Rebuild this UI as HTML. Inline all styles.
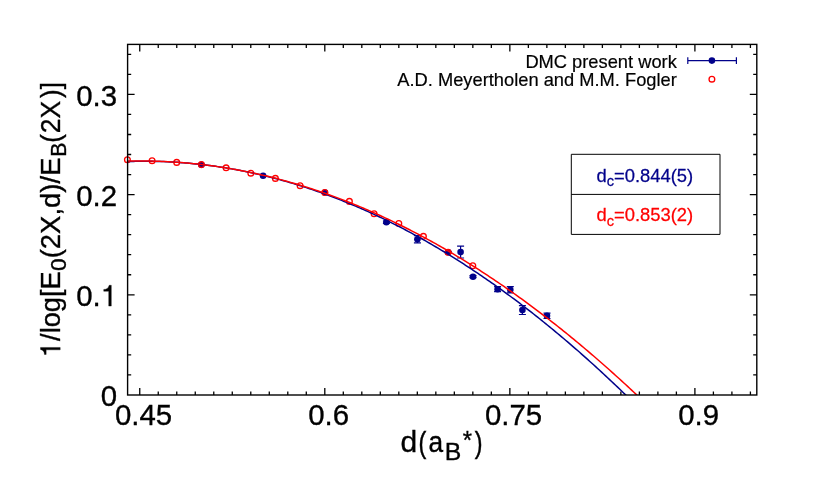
<!DOCTYPE html>
<html><head><meta charset="utf-8"><title>plot</title>
<style>html,body{margin:0;padding:0;background:#fff;}svg{display:block;}text{font-family:"Liberation Sans",sans-serif;font-kerning:none;}.k{stroke:#000;stroke-width:0.35px;}.l{stroke:#000;stroke-width:0.2px;}</style>
</head><body>
<svg width="830" height="498" viewBox="0 0 830 498">
<rect x="0" y="0" width="830" height="498" fill="#ffffff"/>
<g opacity="0.999">
<path d="M139.75 395.00v-7.00M139.75 44.40v7.00M158.25 395.00v-3.60M158.25 44.40v3.60M176.76 395.00v-3.60M176.76 44.40v3.60M195.26 395.00v-3.60M195.26 44.40v3.60M213.77 395.00v-3.60M213.77 44.40v3.60M232.27 395.00v-3.60M232.27 44.40v3.60M250.78 395.00v-3.60M250.78 44.40v3.60M269.28 395.00v-3.60M269.28 44.40v3.60M287.79 395.00v-3.60M287.79 44.40v3.60M306.29 395.00v-3.60M306.29 44.40v3.60M324.80 395.00v-7.00M324.80 44.40v7.00M343.30 395.00v-3.60M343.30 44.40v3.60M361.81 395.00v-3.60M361.81 44.40v3.60M380.31 395.00v-3.60M380.31 44.40v3.60M398.82 395.00v-3.60M398.82 44.40v3.60M417.32 395.00v-3.60M417.32 44.40v3.60M435.83 395.00v-3.60M435.83 44.40v3.60M454.33 395.00v-3.60M454.33 44.40v3.60M472.84 395.00v-3.60M472.84 44.40v3.60M491.34 395.00v-3.60M491.34 44.40v3.60M509.85 395.00v-7.00M509.85 44.40v7.00M528.36 395.00v-3.60M528.36 44.40v3.60M546.86 395.00v-3.60M546.86 44.40v3.60M565.37 395.00v-3.60M565.37 44.40v3.60M583.87 395.00v-3.60M583.87 44.40v3.60M602.38 395.00v-3.60M602.38 44.40v3.60M620.88 395.00v-3.60M620.88 44.40v3.60M639.38 395.00v-3.60M639.38 44.40v3.60M657.89 395.00v-3.60M657.89 44.40v3.60M676.39 395.00v-3.60M676.39 44.40v3.60M694.90 395.00v-7.00M694.90 44.40v7.00M713.40 395.00v-3.60M713.40 44.40v3.60M731.91 395.00v-3.60M731.91 44.40v3.60M750.41 395.00v-3.60M750.41 44.40v3.60M127.60 374.96h3.60M756.80 374.96h-3.60M127.60 354.92h3.60M756.80 354.92h-3.60M127.60 334.88h3.60M756.80 334.88h-3.60M127.60 314.84h3.60M756.80 314.84h-3.60M127.60 294.80h7.00M756.80 294.80h-7.00M127.60 274.76h3.60M756.80 274.76h-3.60M127.60 254.72h3.60M756.80 254.72h-3.60M127.60 234.68h3.60M756.80 234.68h-3.60M127.60 214.64h3.60M756.80 214.64h-3.60M127.60 194.60h7.00M756.80 194.60h-7.00M127.60 174.56h3.60M756.80 174.56h-3.60M127.60 154.52h3.60M756.80 154.52h-3.60M127.60 134.48h3.60M756.80 134.48h-3.60M127.60 114.44h3.60M756.80 114.44h-3.60M127.60 94.40h7.00M756.80 94.40h-7.00M127.60 74.36h3.60M756.80 74.36h-3.60M127.60 54.32h3.60M756.80 54.32h-3.60" stroke="#000" stroke-width="1.3" fill="none"/>
<clipPath id="c"><rect x="127.6" y="44.4" width="629.1999999999999" height="350.6"/></clipPath>
<circle cx="201.4" cy="164.7" r="3.3" fill="#00008b"/><circle cx="263.1" cy="175.7" r="3.3" fill="#00008b"/><circle cx="324.9" cy="192.5" r="3.3" fill="#00008b"/><path d="M386.4 221.0V223.4M382.9 221.0h7M382.9 223.4h7" stroke="#00008b" stroke-width="1.2" fill="none"/><circle cx="386.4" cy="222.2" r="3.3" fill="#00008b"/><path d="M417.4 235.7V242.9M413.9 235.7h7M413.9 242.9h7" stroke="#00008b" stroke-width="1.2" fill="none"/><circle cx="417.4" cy="239.3" r="3.3" fill="#00008b"/><path d="M448.2 251.5V253.1M444.7 251.5h7M444.7 253.1h7" stroke="#00008b" stroke-width="1.2" fill="none"/><circle cx="448.2" cy="252.3" r="3.3" fill="#00008b"/><path d="M460.6 246.2V258.0M457.1 246.2h7M457.1 258.0h7" stroke="#00008b" stroke-width="1.2" fill="none"/><circle cx="460.6" cy="252.1" r="3.3" fill="#00008b"/><path d="M473.0 275.7V277.7M469.5 275.7h7M469.5 277.7h7" stroke="#00008b" stroke-width="1.2" fill="none"/><circle cx="473.0" cy="276.7" r="3.3" fill="#00008b"/><path d="M497.6 286.7V291.7M494.1 286.7h7M494.1 291.7h7" stroke="#00008b" stroke-width="1.2" fill="none"/><circle cx="497.6" cy="289.2" r="3.3" fill="#00008b"/><path d="M510.3 286.6V292.8M506.8 286.6h7M506.8 292.8h7" stroke="#00008b" stroke-width="1.2" fill="none"/><circle cx="510.3" cy="289.7" r="3.3" fill="#00008b"/><path d="M522.4 305.7V314.5M518.9 305.7h7M518.9 314.5h7" stroke="#00008b" stroke-width="1.2" fill="none"/><circle cx="522.4" cy="310.1" r="3.3" fill="#00008b"/><path d="M547.0 313.1V318.5M543.5 313.1h7M543.5 318.5h7" stroke="#00008b" stroke-width="1.2" fill="none"/><circle cx="547.0" cy="315.8" r="3.3" fill="#00008b"/>
<circle cx="127.4" cy="159.7" r="2.85" fill="none" stroke="#ff0000" stroke-width="1.35"/><circle cx="152.1" cy="160.7" r="2.85" fill="none" stroke="#ff0000" stroke-width="1.35"/><circle cx="176.7" cy="162.4" r="2.85" fill="none" stroke="#ff0000" stroke-width="1.35"/><circle cx="201.4" cy="164.6" r="2.85" fill="none" stroke="#ff0000" stroke-width="1.35"/><circle cx="226.1" cy="167.8" r="2.85" fill="none" stroke="#ff0000" stroke-width="1.35"/><circle cx="250.8" cy="173.2" r="2.85" fill="none" stroke="#ff0000" stroke-width="1.35"/><circle cx="275.4" cy="178.4" r="2.85" fill="none" stroke="#ff0000" stroke-width="1.35"/><circle cx="300.1" cy="185.7" r="2.85" fill="none" stroke="#ff0000" stroke-width="1.35"/><circle cx="324.8" cy="192.5" r="2.85" fill="none" stroke="#ff0000" stroke-width="1.35"/><circle cx="349.4" cy="201.4" r="2.85" fill="none" stroke="#ff0000" stroke-width="1.35"/><circle cx="374.1" cy="213.7" r="2.85" fill="none" stroke="#ff0000" stroke-width="1.35"/><circle cx="398.8" cy="223.5" r="2.85" fill="none" stroke="#ff0000" stroke-width="1.35"/><circle cx="423.4" cy="236.3" r="2.85" fill="none" stroke="#ff0000" stroke-width="1.35"/><circle cx="448.1" cy="252.3" r="2.85" fill="none" stroke="#ff0000" stroke-width="1.35"/><circle cx="472.8" cy="265.7" r="2.85" fill="none" stroke="#ff0000" stroke-width="1.35"/>
<path d="M127.6 161.56 L129.6 161.50 L131.6 161.44 L133.6 161.39 L135.6 161.35 L137.6 161.32 L139.6 161.29 L141.6 161.28 L143.6 161.27 L145.6 161.27 L147.6 161.27 L149.6 161.29 L151.6 161.31 L153.6 161.34 L155.6 161.38 L157.6 161.43 L159.6 161.49 L161.6 161.55 L163.6 161.62 L165.6 161.70 L167.6 161.79 L169.6 161.89 L171.6 161.99 L173.6 162.10 L175.6 162.23 L177.6 162.35 L179.6 162.49 L181.6 162.64 L183.6 162.79 L185.6 162.95 L187.6 163.12 L189.6 163.30 L191.6 163.48 L193.6 163.67 L195.6 163.88 L197.6 164.08 L199.6 164.30 L201.6 164.53 L203.6 164.76 L205.6 165.00 L207.6 165.25 L209.6 165.51 L211.6 165.78 L213.6 166.05 L215.6 166.33 L217.6 166.62 L219.6 166.92 L221.6 167.23 L223.6 167.54 L225.6 167.87 L227.6 168.20 L229.6 168.54 L231.6 168.88 L233.6 169.24 L235.6 169.60 L237.6 169.97 L239.6 170.35 L241.6 170.74 L243.6 171.13 L245.6 171.54 L247.6 171.95 L249.6 172.37 L251.6 172.80 L253.6 173.23 L255.6 173.67 L257.6 174.13 L259.6 174.59 L261.6 175.06 L263.6 175.53 L265.6 176.02 L267.6 176.51 L269.6 177.01 L271.6 177.52 L273.6 178.03 L275.6 178.56 L277.6 179.09 L279.6 179.63 L281.6 180.18 L283.6 180.74 L285.6 181.30 L287.6 181.88 L289.6 182.46 L291.6 183.05 L293.6 183.64 L295.6 184.25 L297.6 184.86 L299.6 185.49 L301.6 186.12 L303.6 186.75 L305.6 187.40 L307.6 188.05 L309.6 188.72 L311.6 189.39 L313.6 190.06 L315.6 190.75 L317.6 191.44 L319.6 192.15 L321.6 192.86 L323.6 193.58 L325.6 194.30 L327.6 195.04 L329.6 195.78 L331.6 196.53 L333.6 197.29 L335.6 198.06 L337.6 198.83 L339.6 199.62 L341.6 200.41 L343.6 201.21 L345.6 202.02 L347.6 202.83 L349.6 203.66 L351.6 204.49 L353.6 205.33 L355.6 206.18 L357.6 207.03 L359.6 207.90 L361.6 208.77 L363.6 209.65 L365.6 210.54 L367.6 211.43 L369.6 212.34 L371.6 213.25 L373.6 214.17 L375.6 215.10 L377.6 216.04 L379.6 216.98 L381.6 217.94 L383.6 218.90 L385.6 219.87 L387.6 220.84 L389.6 221.83 L391.6 222.82 L393.6 223.82 L395.6 224.83 L397.6 225.85 L399.6 226.88 L401.6 227.91 L403.6 228.95 L405.6 230.00 L407.6 231.06 L409.6 232.13 L411.6 233.20 L413.6 234.29 L415.6 235.38 L417.6 236.47 L419.6 237.58 L421.6 238.70 L423.6 239.82 L425.6 240.95 L427.6 242.09 L429.6 243.24 L431.6 244.39 L433.6 245.55 L435.6 246.73 L437.6 247.91 L439.6 249.09 L441.6 250.29 L443.6 251.49 L445.6 252.70 L447.6 253.92 L449.6 255.15 L451.6 256.39 L453.6 257.63 L455.6 258.88 L457.6 260.15 L459.6 261.41 L461.6 262.69 L463.6 263.97 L465.6 265.27 L467.6 266.57 L469.6 267.88 L471.6 269.19 L473.6 270.52 L475.6 271.85 L477.6 273.19 L479.6 274.54 L481.6 275.90 L483.6 277.27 L485.6 278.64 L487.6 280.02 L489.6 281.41 L491.6 282.81 L493.6 284.21 L495.6 285.63 L497.6 287.05 L499.6 288.48 L501.6 289.92 L503.6 291.36 L505.6 292.82 L507.6 294.28 L509.6 295.75 L511.6 297.23 L513.6 298.72 L515.6 300.21 L517.6 301.71 L519.6 303.22 L521.6 304.74 L523.6 306.27 L525.6 307.81 L527.6 309.35 L529.6 310.90 L531.6 312.46 L533.6 314.03 L535.6 315.60 L537.6 317.19 L539.6 318.78 L541.6 320.38 L543.6 321.99 L545.6 323.60 L547.6 325.23 L549.6 326.86 L551.6 328.50 L553.6 330.15 L555.6 331.80 L557.6 333.47 L559.6 335.14 L561.6 336.82 L563.6 338.51 L565.6 340.21 L567.6 341.91 L569.6 343.63 L571.6 345.35 L573.6 347.08 L575.6 348.81 L577.6 350.56 L579.6 352.31 L581.6 354.07 L583.6 355.84 L585.6 357.62 L587.6 359.41 L589.6 361.20 L591.6 363.00 L593.6 364.81 L595.6 366.63 L597.6 368.46 L599.6 370.29 L601.6 372.13 L603.6 373.98 L605.6 375.84 L607.6 377.71 L609.6 379.58 L611.6 381.47 L613.6 383.36 L615.6 385.26 L617.6 387.16 L619.6 389.08 L621.6 391.00 L623.6 392.93 L625.6 394.87 L627.6 396.82" stroke="#00008b" stroke-width="1.5" fill="none" clip-path="url(#c)"/>
<path d="M127.6 161.14 L129.6 161.09 L131.6 161.05 L133.6 161.02 L135.6 161.00 L137.6 160.99 L139.6 160.98 L141.6 160.98 L143.6 160.99 L145.6 161.00 L147.6 161.03 L149.6 161.06 L151.6 161.10 L153.6 161.14 L155.6 161.20 L157.6 161.26 L159.6 161.33 L161.6 161.40 L163.6 161.49 L165.6 161.58 L167.6 161.68 L169.6 161.78 L171.6 161.90 L173.6 162.02 L175.6 162.15 L177.6 162.29 L179.6 162.43 L181.6 162.58 L183.6 162.74 L185.6 162.91 L187.6 163.09 L189.6 163.27 L191.6 163.46 L193.6 163.66 L195.6 163.86 L197.6 164.08 L199.6 164.30 L201.6 164.53 L203.6 164.76 L205.6 165.01 L207.6 165.26 L209.6 165.52 L211.6 165.78 L213.6 166.06 L215.6 166.34 L217.6 166.63 L219.6 166.92 L221.6 167.23 L223.6 167.54 L225.6 167.86 L227.6 168.19 L229.6 168.52 L231.6 168.87 L233.6 169.22 L235.6 169.57 L237.6 169.94 L239.6 170.31 L241.6 170.69 L243.6 171.08 L245.6 171.48 L247.6 171.88 L249.6 172.29 L251.6 172.71 L253.6 173.13 L255.6 173.57 L257.6 174.01 L259.6 174.46 L261.6 174.91 L263.6 175.38 L265.6 175.85 L267.6 176.33 L269.6 176.82 L271.6 177.31 L273.6 177.81 L275.6 178.32 L277.6 178.84 L279.6 179.36 L281.6 179.90 L283.6 180.44 L285.6 180.98 L287.6 181.54 L289.6 182.10 L291.6 182.67 L293.6 183.25 L295.6 183.84 L297.6 184.43 L299.6 185.03 L301.6 185.64 L303.6 186.25 L305.6 186.88 L307.6 187.51 L309.6 188.15 L311.6 188.80 L313.6 189.45 L315.6 190.11 L317.6 190.78 L319.6 191.46 L321.6 192.14 L323.6 192.83 L325.6 193.53 L327.6 194.24 L329.6 194.96 L331.6 195.68 L333.6 196.41 L335.6 197.15 L337.6 197.89 L339.6 198.64 L341.6 199.40 L343.6 200.17 L345.6 200.95 L347.6 201.73 L349.6 202.52 L351.6 203.32 L353.6 204.13 L355.6 204.94 L357.6 205.76 L359.6 206.59 L361.6 207.43 L363.6 208.27 L365.6 209.12 L367.6 209.98 L369.6 210.85 L371.6 211.72 L373.6 212.61 L375.6 213.49 L377.6 214.39 L379.6 215.30 L381.6 216.21 L383.6 217.13 L385.6 218.06 L387.6 218.99 L389.6 219.94 L391.6 220.89 L393.6 221.84 L395.6 222.81 L397.6 223.78 L399.6 224.76 L401.6 225.75 L403.6 226.75 L405.6 227.75 L407.6 228.76 L409.6 229.78 L411.6 230.81 L413.6 231.84 L415.6 232.88 L417.6 233.93 L419.6 234.99 L421.6 236.06 L423.6 237.13 L425.6 238.21 L427.6 239.29 L429.6 240.39 L431.6 241.49 L433.6 242.60 L435.6 243.72 L437.6 244.85 L439.6 245.98 L441.6 247.12 L443.6 248.27 L445.6 249.42 L447.6 250.59 L449.6 251.76 L451.6 252.93 L453.6 254.12 L455.6 255.31 L457.6 256.52 L459.6 257.72 L461.6 258.94 L463.6 260.17 L465.6 261.40 L467.6 262.64 L469.6 263.88 L471.6 265.14 L473.6 266.40 L475.6 267.67 L477.6 268.95 L479.6 270.23 L481.6 271.52 L483.6 272.82 L485.6 274.13 L487.6 275.45 L489.6 276.77 L491.6 278.10 L493.6 279.44 L495.6 280.79 L497.6 282.14 L499.6 283.50 L501.6 284.87 L503.6 286.24 L505.6 287.63 L507.6 289.02 L509.6 290.42 L511.6 291.82 L513.6 293.24 L515.6 294.66 L517.6 296.09 L519.6 297.53 L521.6 298.97 L523.6 300.42 L525.6 301.88 L527.6 303.35 L529.6 304.83 L531.6 306.31 L533.6 307.80 L535.6 309.30 L537.6 310.80 L539.6 312.31 L541.6 313.83 L543.6 315.36 L545.6 316.90 L547.6 318.44 L549.6 319.99 L551.6 321.55 L553.6 323.12 L555.6 324.69 L557.6 326.27 L559.6 327.86 L561.6 329.46 L563.6 331.06 L565.6 332.67 L567.6 334.29 L569.6 335.92 L571.6 337.55 L573.6 339.20 L575.6 340.85 L577.6 342.50 L579.6 344.17 L581.6 345.84 L583.6 347.52 L585.6 349.21 L587.6 350.90 L589.6 352.61 L591.6 354.32 L593.6 356.04 L595.6 357.76 L597.6 359.50 L599.6 361.24 L601.6 362.99 L603.6 364.74 L605.6 366.50 L607.6 368.28 L609.6 370.06 L611.6 371.84 L613.6 373.64 L615.6 375.44 L617.6 377.25 L619.6 379.06 L621.6 380.89 L623.6 382.72 L625.6 384.56 L627.6 386.41 L629.6 388.26 L631.6 390.13 L633.6 392.00 L635.6 393.87 L637.6 395.76 L639.6 397.65" stroke="#ff0000" stroke-width="1.5" fill="none" clip-path="url(#c)"/>
<rect x="127.6" y="44.4" width="629.20" height="350.60" fill="none" stroke="#000" stroke-width="1.4"/>
<text transform="translate(143.6,424.6) scale(1,1.03)" class="k" font-size="29.4" text-anchor="middle">0.45</text>
<text transform="translate(328.6,424.6) scale(1,1.03)" class="k" font-size="29.4" text-anchor="middle">0.6</text>
<text transform="translate(513.6,424.6) scale(1,1.03)" class="k" font-size="29.4" text-anchor="middle">0.75</text>
<text transform="translate(698.7,424.6) scale(1,1.03)" class="k" font-size="29.4" text-anchor="middle">0.9</text>
<text transform="translate(117.1,406.3) scale(1,1.03)" class="k" font-size="29.4" text-anchor="end">0</text>
<text transform="translate(100.75,306.1) scale(1,1.03)" class="k" font-size="29.4" text-anchor="end">0.</text>
<path transform="translate(100.75,306.1)" class="k" d="M10.55 0.00L7.97 0.00L7.97 -14.85L2.97 -14.85L2.97 -16.67C5.88 -16.67 7.70 -17.93 8.41 -20.84L10.55 -20.84Z" fill="#000"/>
<text transform="translate(117.1,205.9) scale(1,1.03)" class="k" font-size="29.4" text-anchor="end">0.2</text>
<text transform="translate(117.1,105.7) scale(1,1.03)" class="k" font-size="29.4" text-anchor="end">0.3</text>
<text transform="translate(400.44,452.00) scale(1,0.978)" class="k" font-size="30.02">d</text>
<text transform="translate(418.45,452.80) scale(1,1.293)" class="k" font-size="23.38">(</text>
<text transform="translate(428.58,452.00) scale(1,1.117)" class="k" font-size="26.28">a</text>
<text transform="translate(444.87,459.60) scale(1,0.967)" class="k" font-size="24.80">B</text>
<text transform="translate(462.72,448.50) scale(1,1.074)" class="k" font-size="23.78">*</text>
<text transform="translate(474.76,452.80) scale(1,1.293)" class="k" font-size="23.38">)</text>
<path transform="translate(60.2,357.3) rotate(-90)" class="k" d="M9.87 0.00L7.45 0.00L7.45 -14.04L2.78 -14.04L2.78 -15.76C5.50 -15.76 7.21 -16.96 7.86 -19.71L9.87 -19.71Z" fill="#000"/>
<text transform="translate(60.20,340.90) rotate(-90) scale(1,1.026)" class="k" font-size="27.21">/log[E</text>
<text transform="translate(66.30,271.09) rotate(-90) scale(1,0.982)" class="k" font-size="22.80">0</text>
<text transform="translate(60.20,258.30) rotate(-90) scale(1,1.016)" class="k" font-size="27.48">(2X,d)/E</text>
<text transform="translate(66.30,156.64) rotate(-90) scale(1,1.061)" class="k" font-size="21.23">B</text>
<text transform="translate(60.20,142.79) rotate(-90) scale(1,1.088)" class="k" font-size="25.65">(</text>
<text transform="translate(60.20,133.23) rotate(-90) scale(1,1.054)" class="k" font-size="26.48">2X</text>
<text transform="translate(60.20,97.95) rotate(-90) scale(1,1.079)" class="k" font-size="25.86">)]</text>
<text transform="translate(676.8,67.6) scale(1,1.045)" class="l" font-size="18.3" text-anchor="end">DMC present work</text>
<text transform="translate(676.8,86) scale(1,1.045)" class="l" font-size="18.3" text-anchor="end">A.D. Meyertholen and M.M. Fogler</text>
<path d="M687.8 60.6H736.4M687.8 57.2v6.8M736.4 57.2v6.8" stroke="#00008b" stroke-width="1.2" fill="none"/><circle cx="711.9" cy="60.6" r="3.3" fill="#00008b"/>
<circle cx="711.9" cy="79.2" r="2.85" fill="none" stroke="#ff0000" stroke-width="1.35"/>
<path d="M571.3 154.3H720V234.4H571.3ZM571.3 194.4H720" stroke="#000" stroke-width="1" fill="none"/>
<text transform="translate(644.8,181.6) scale(1,1.04)" font-size="18.4" text-anchor="middle" fill="#00008b" stroke="#00008b" stroke-width="0.25">d<tspan font-size="14.6" dy="4.3">c</tspan><tspan dy="-4.3">=0.844(5)</tspan></text>
<text transform="translate(644.8,221.4) scale(1,1.04)" font-size="18.4" text-anchor="middle" fill="#ff0000" stroke="#ff0000" stroke-width="0.25">d<tspan font-size="14.6" dy="4.3">c</tspan><tspan dy="-4.3">=0.853(2)</tspan></text>
</g>
</svg></body></html>
